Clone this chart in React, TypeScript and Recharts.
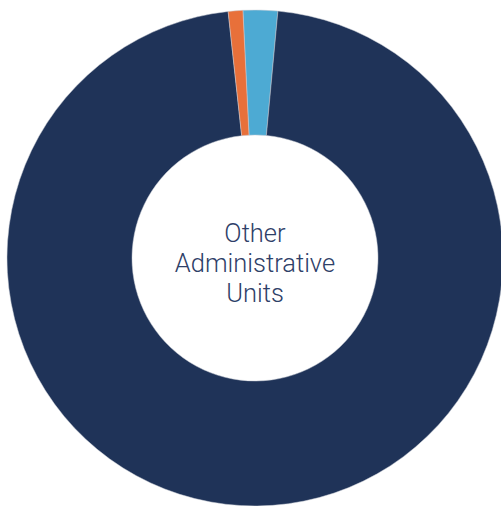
import React from "react";
import { PieChart, Pie, Cell, Label } from "recharts";

const categories = ["Light blue segment", "Other Administrative Units", "Orange segment"];
const values = [2.25, 96.8, 0.95];
const colors = ["#4DAAD3", "#1F3358", "#E8703A"];
const centerLines = ["Other", "Administrative", "Units"];

const data = categories.map((name, i) => ({ name, value: values[i] }));

const CX = 255;
const CY = 258;

const CenterLabel = () => {
  const offsets = [-16, 14, 44];
  return (
    <g>
      {centerLines.map((t, i) => (
        <text
          key={t}
          x={CX}
          y={CY + offsets[i]}
          textAnchor="middle"
          fill="#2E4068"
          fontFamily="Roboto, 'Open Sans', sans-serif"
          fontSize={25.5}
          fontWeight={300}
        >
          {t}
        </text>
      ))}
    </g>
  );
};

export default function App() {
  const start = 92.8;
  return (
    <div style={{ position: "fixed", left: 0, top: 0, width: 501, height: 506, overflow: "hidden", background: "#fff" }}>
      <PieChart width={520} height={520} margin={{ top: 0, right: 0, bottom: 0, left: 0 }}>
        <Pie
          data={data}
          dataKey="value"
          nameKey="name"
          cx={CX}
          cy={CY}
          innerRadius={123}
          outerRadius={248}
          startAngle={start}
          endAngle={start - 360}
          stroke="#c8ccd4"
          strokeWidth={0.5}
          isAnimationActive={false}
        >
          {data.map((d, i) => (
            <Cell key={d.name} fill={colors[i]} />
          ))}
          <Label position="center" content={<CenterLabel />} />
        </Pie>
      </PieChart>
    </div>
  );
}
